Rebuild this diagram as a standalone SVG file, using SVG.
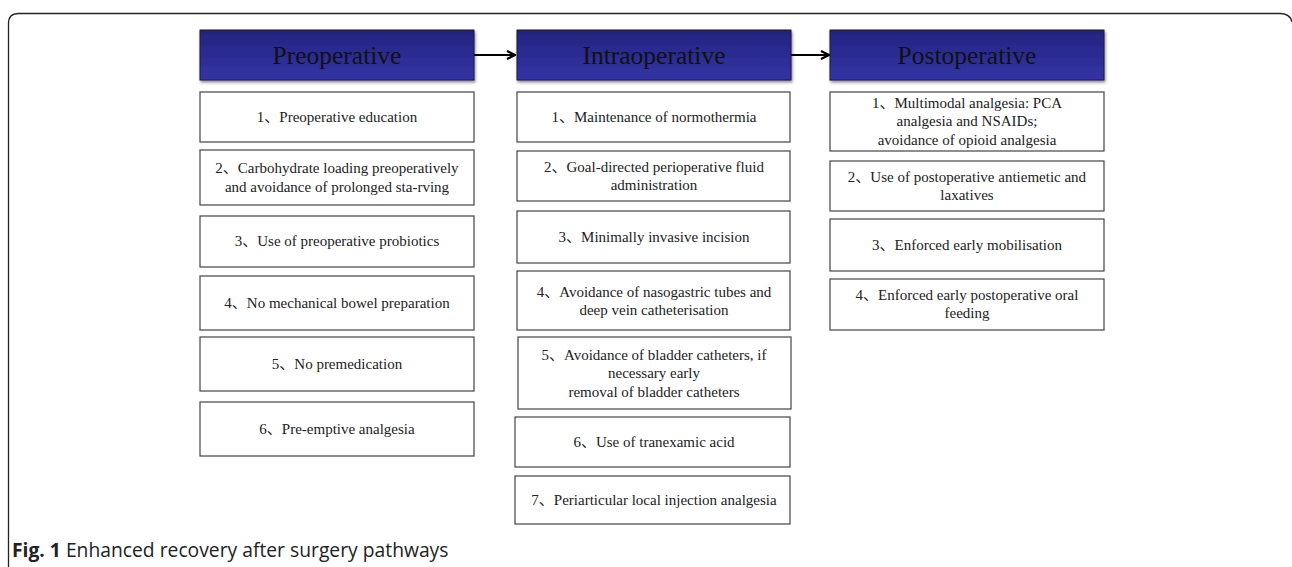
<svg xmlns="http://www.w3.org/2000/svg" width="1292" height="567" viewBox="0 0 1292 567">
<defs>
<linearGradient id="hg" x1="0" y1="0" x2="0" y2="1">
<stop offset="0" stop-color="#232380"/>
<stop offset="1" stop-color="#3434a6"/>
</linearGradient>
<filter id="sh" x="-5%" y="-10%" width="110%" height="130%">
<feDropShadow dx="1" dy="2" stdDeviation="1.5" flood-color="#000" flood-opacity="0.45"/>
</filter>
<marker id="ah" markerWidth="10" markerHeight="10" refX="9" refY="5" orient="auto" markerUnits="userSpaceOnUse">
<path d="M1,1 L9,5 L1,9" fill="none" stroke="#000" stroke-width="2.2"/>
</marker>
</defs>
<style>
.hd{fill:url(#hg);stroke:#1a1a3a;stroke-width:1;filter:url(#sh)}
.ht{font-family:"Liberation Serif",serif;font-size:25.5px;fill:#111;text-anchor:middle}
.bx{fill:#fff;stroke:#444;stroke-width:1.2}
.t{font-family:"Liberation Serif","Noto Sans CJK SC",serif;font-size:15px;fill:#222;text-anchor:middle}
.cn{stroke:#000;stroke-width:2;fill:none}
</style>
<rect width="1292" height="567" fill="#fff"/>
<path d="M8.5,567 L8.5,23.5 Q8.5,13.5 18.5,13.5 L1280,13.5 Q1290,13.5 1292,22" fill="none" stroke="#222" stroke-width="1.3"/>

<g id="connectors">
<line class="cn" x1="474" y1="55" x2="515" y2="55" marker-end="url(#ah)"/>
<line class="cn" x1="791" y1="55" x2="829" y2="55" marker-end="url(#ah)"/>
</g>

<g id="h-pre"><rect class="hd" x="200" y="30" width="274" height="50"/><text class="ht" x="337" y="64">Preoperative</text></g>
<g id="h-intra"><rect class="hd" x="517" y="30" width="274" height="50"/><text class="ht" x="654" y="64">Intraoperative</text></g>
<g id="h-post"><rect class="hd" x="830" y="30" width="274" height="50"/><text class="ht" x="967" y="64">Postoperative</text></g>

<g id="pre1"><rect class="bx" x="200" y="92" width="274" height="50"/><text class="t" x="337" y="122">1、Preoperative education</text></g>
<g id="pre2"><rect class="bx" x="200" y="150" width="274" height="55"/><text class="t" x="337" y="173">2、Carbohydrate loading preoperatively</text><text class="t" x="337" y="192">and avoidance of prolonged sta-rving</text></g>
<g id="pre3"><rect class="bx" x="200" y="216" width="274" height="51"/><text class="t" x="337" y="246">3、Use of preoperative probiotics</text></g>
<g id="pre4"><rect class="bx" x="200" y="276" width="274" height="54"/><text class="t" x="337" y="308">4、No mechanical bowel preparation</text></g>
<g id="pre5"><rect class="bx" x="200" y="337" width="274" height="54"/><text class="t" x="337" y="369">5、No premedication</text></g>
<g id="pre6"><rect class="bx" x="200" y="402" width="274" height="54"/><text class="t" x="337" y="434">6、Pre-emptive analgesia</text></g>

<g id="in1"><rect class="bx" x="517" y="92" width="273" height="50"/><text class="t" x="654" y="122">1、Maintenance of normothermia</text></g>
<g id="in2"><rect class="bx" x="517" y="151" width="273" height="50"/><text class="t" x="654" y="172">2、Goal-directed perioperative fluid</text><text class="t" x="654" y="190">administration</text></g>
<g id="in3"><rect class="bx" x="517" y="211" width="273" height="52"/><text class="t" x="654" y="242">3、Minimally invasive incision</text></g>
<g id="in4"><rect class="bx" x="517" y="271" width="273" height="59"/><text class="t" x="654" y="297">4、Avoidance of nasogastric tubes and</text><text class="t" x="654" y="315">deep vein catheterisation</text></g>
<g id="in5"><rect class="bx" x="518" y="337" width="273" height="72"/><text class="t" x="654" y="360">5、Avoidance of bladder catheters, if</text><text class="t" x="654" y="378">necessary early</text><text class="t" x="654" y="397">removal of bladder catheters</text></g>
<g id="in6"><rect class="bx" x="515" y="417" width="275" height="50"/><text class="t" x="654" y="447">6、Use of tranexamic acid</text></g>
<g id="in7"><rect class="bx" x="515" y="476" width="275" height="48"/><text class="t" x="654" y="505">7、Periarticular local injection analgesia</text></g>

<g id="po1"><rect class="bx" x="830" y="92" width="274" height="59"/><text class="t" x="967" y="108">1、Multimodal analgesia: PCA</text><text class="t" x="967" y="126">analgesia and NSAIDs;</text><text class="t" x="967" y="145">avoidance of opioid analgesia</text></g>
<g id="po2"><rect class="bx" x="830" y="161" width="274" height="50"/><text class="t" x="967" y="182">2、Use of postoperative antiemetic and</text><text class="t" x="967" y="200">laxatives</text></g>
<g id="po3"><rect class="bx" x="830" y="219" width="274" height="52"/><text class="t" x="967" y="250">3、Enforced early mobilisation</text></g>
<g id="po4"><rect class="bx" x="830" y="279" width="274" height="51"/><text class="t" x="967" y="300">4、Enforced early postoperative oral</text><text class="t" x="967" y="318">feeding</text></g>

<text x="12" y="557" font-family="'Open Sans',sans-serif" font-size="19.3px" fill="#222"><tspan font-weight="bold">Fig. 1</tspan> Enhanced recovery after surgery pathways</text>
</svg>
